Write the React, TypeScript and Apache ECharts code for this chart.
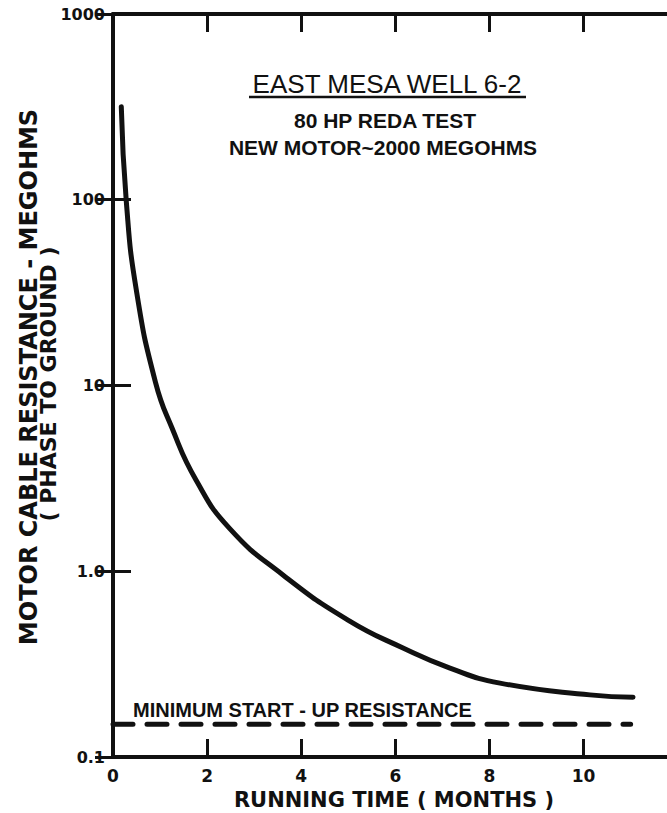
import React, { useEffect, useRef } from "react";
import * as echarts from "echarts";

const months = [0.176, 0.283, 0.495, 0.903, 1.254, 1.764, 2.486, 3.612, 4.994, 6.163, 7.161, 8.224, 10.136, 11.05];
const resistance = [317, 97.6, 32.7, 10.4, 5.9, 3.1, 1.69, 0.955, 0.546, 0.386, 0.301, 0.25, 0.216, 0.21];
const minStartMonths = [0, 11];
const minStartResistance = [0.15, 0.15];
const yTickLabels = ["0.1", "1.0", "10", "100", "1000"];

const titleText = "EAST MESA WELL 6-2";
const subtitle1 = "80 HP REDA TEST";
const subtitle2 = "NEW MOTOR~2000 MEGOHMS";
const minLabel = "MINIMUM START - UP RESISTANCE";
const yName1 = "MOTOR CABLE RESISTANCE - MEGOHMS";
const yName2 = "( PHASE TO GROUND )";
const xName = "RUNNING TIME ( MONTHS )";

export default function App() {
  const ref = useRef<HTMLDivElement>(null);
  useEffect(() => {
    if (!ref.current) return;
    const chart = echarts.init(ref.current, null, { renderer: "svg" });
    const black = "#111";
    const sans = "'Liberation Sans', Arial, sans-serif";
    const wide = "'DejaVu Sans', sans-serif";
    const curve = months.map((m, i) => [m, resistance[i]]);
    const minLine = minStartMonths.map((m, i) => [m, minStartResistance[i]]);
    chart.setOption({
      animation: false,
      backgroundColor: "#fff",
      grid: { left: 113, top: 14, width: 560, height: 743 },
      xAxis: [
        {
          type: "value",
          min: 0,
          max: 11.9,
          interval: 2,
          position: "bottom",
          axisLine: { show: true, lineStyle: { color: black, width: 4 } },
          axisTick: { show: true, inside: true, length: 18, lineStyle: { color: black, width: 3 } },
          axisLabel: {
            show: true,
            margin: 10,
            showMaxLabel: false,
            color: black,
            fontFamily: wide,
            fontWeight: "bold",
            fontSize: 17,
            formatter: (v: number) => String(Math.round(v)),
          },
          splitLine: { show: false },
        },
        {
          type: "value",
          min: 0,
          max: 11.9,
          interval: 2,
          position: "top",
          axisLine: { show: true, lineStyle: { color: black, width: 4 } },
          axisTick: { show: true, inside: true, length: 18, lineStyle: { color: black, width: 3 } },
          axisLabel: { show: false },
          splitLine: { show: false },
        },
      ],
      yAxis: [
        {
          type: "log",
          logBase: 10,
          min: 0.1,
          max: 1000,
          position: "left",
          axisLine: { show: true, lineStyle: { color: black, width: 4 } },
          axisTick: { show: true, inside: true, length: 18, lineStyle: { color: black, width: 3 } },
          axisLabel: {
            show: true,
            margin: 8,
            color: black,
            fontFamily: wide,
            fontWeight: "bold",
            fontSize: 16,
            formatter: (v: number) => yTickLabels[Math.round(Math.log10(v)) + 1] ?? "",
          },
          splitLine: { show: false },
        },
        {
          type: "log",
          logBase: 10,
          min: 0.1,
          max: 1000,
          position: "right",
          axisLine: { show: false },
          axisTick: { show: true, inside: true, length: 18, lineStyle: { color: black, width: 3 } },
          axisLabel: { show: false },
          splitLine: { show: false },
        },
      ],
      series: [
        {
          type: "line",
          data: curve,
          smooth: 0.5,
          showSymbol: false,
          lineStyle: { color: black, width: 5, cap: "round", join: "round" },
          silent: true,
        },
        {
          type: "line",
          data: minLine,
          showSymbol: false,
          lineStyle: { color: black, width: 5, type: [20, 14], cap: "round" },
          silent: true,
        },
      ],
      graphic: [
        {
          type: "text",
          x: 387,
          y: 84,
          style: {
            text: titleText,
            fill: black,
            font: `normal 26px ${sans}`,
            textAlign: "center",
            textVerticalAlign: "middle",
          },
        },
        {
          type: "line",
          shape: { x1: 249, y1: 97, x2: 526, y2: 97 },
          style: { stroke: black, lineWidth: 2.5 },
        },
        {
          type: "text",
          x: 385,
          y: 120,
          style: {
            text: subtitle1,
            fill: black,
            font: `bold 21px ${sans}`,
            textAlign: "center",
            textVerticalAlign: "middle",
          },
        },
        {
          type: "text",
          x: 383,
          y: 147,
          style: {
            text: subtitle2,
            fill: black,
            font: `bold 21px ${sans}`,
            textAlign: "center",
            textVerticalAlign: "middle",
          },
        },
        {
          type: "text",
          x: 133,
          y: 710,
          style: {
            text: minLabel,
            fill: black,
            font: `bold 20px ${sans}`,
            textAlign: "left",
            textVerticalAlign: "middle",
          },
        },
        {
          type: "text",
          x: 394,
          y: 800,
          style: {
            text: xName,
            fill: black,
            font: `bold 21px ${wide}`,
            textAlign: "center",
            textVerticalAlign: "middle",
          },
        },
        {
          type: "text",
          x: 28.5,
          y: 377,
          rotation: Math.PI / 2,
          style: {
            text: yName1,
            fill: black,
            font: `bold 24px ${wide}`,
            textAlign: "center",
            textVerticalAlign: "middle",
          },
        },
        {
          type: "text",
          x: 48,
          y: 384,
          rotation: Math.PI / 2,
          style: {
            text: yName2,
            fill: black,
            font: `bold 22px ${wide}`,
            textAlign: "center",
            textVerticalAlign: "middle",
          },
        },
      ],
    });
    return () => chart.dispose();
  }, []);
  return (
    <div style={{ position: "absolute", left: 0, top: 0, width: 667, height: 813, overflow: "hidden", background: "#fff" }}>
      <div ref={ref} style={{ width: 700, height: 813 }} />
    </div>
  );
}
